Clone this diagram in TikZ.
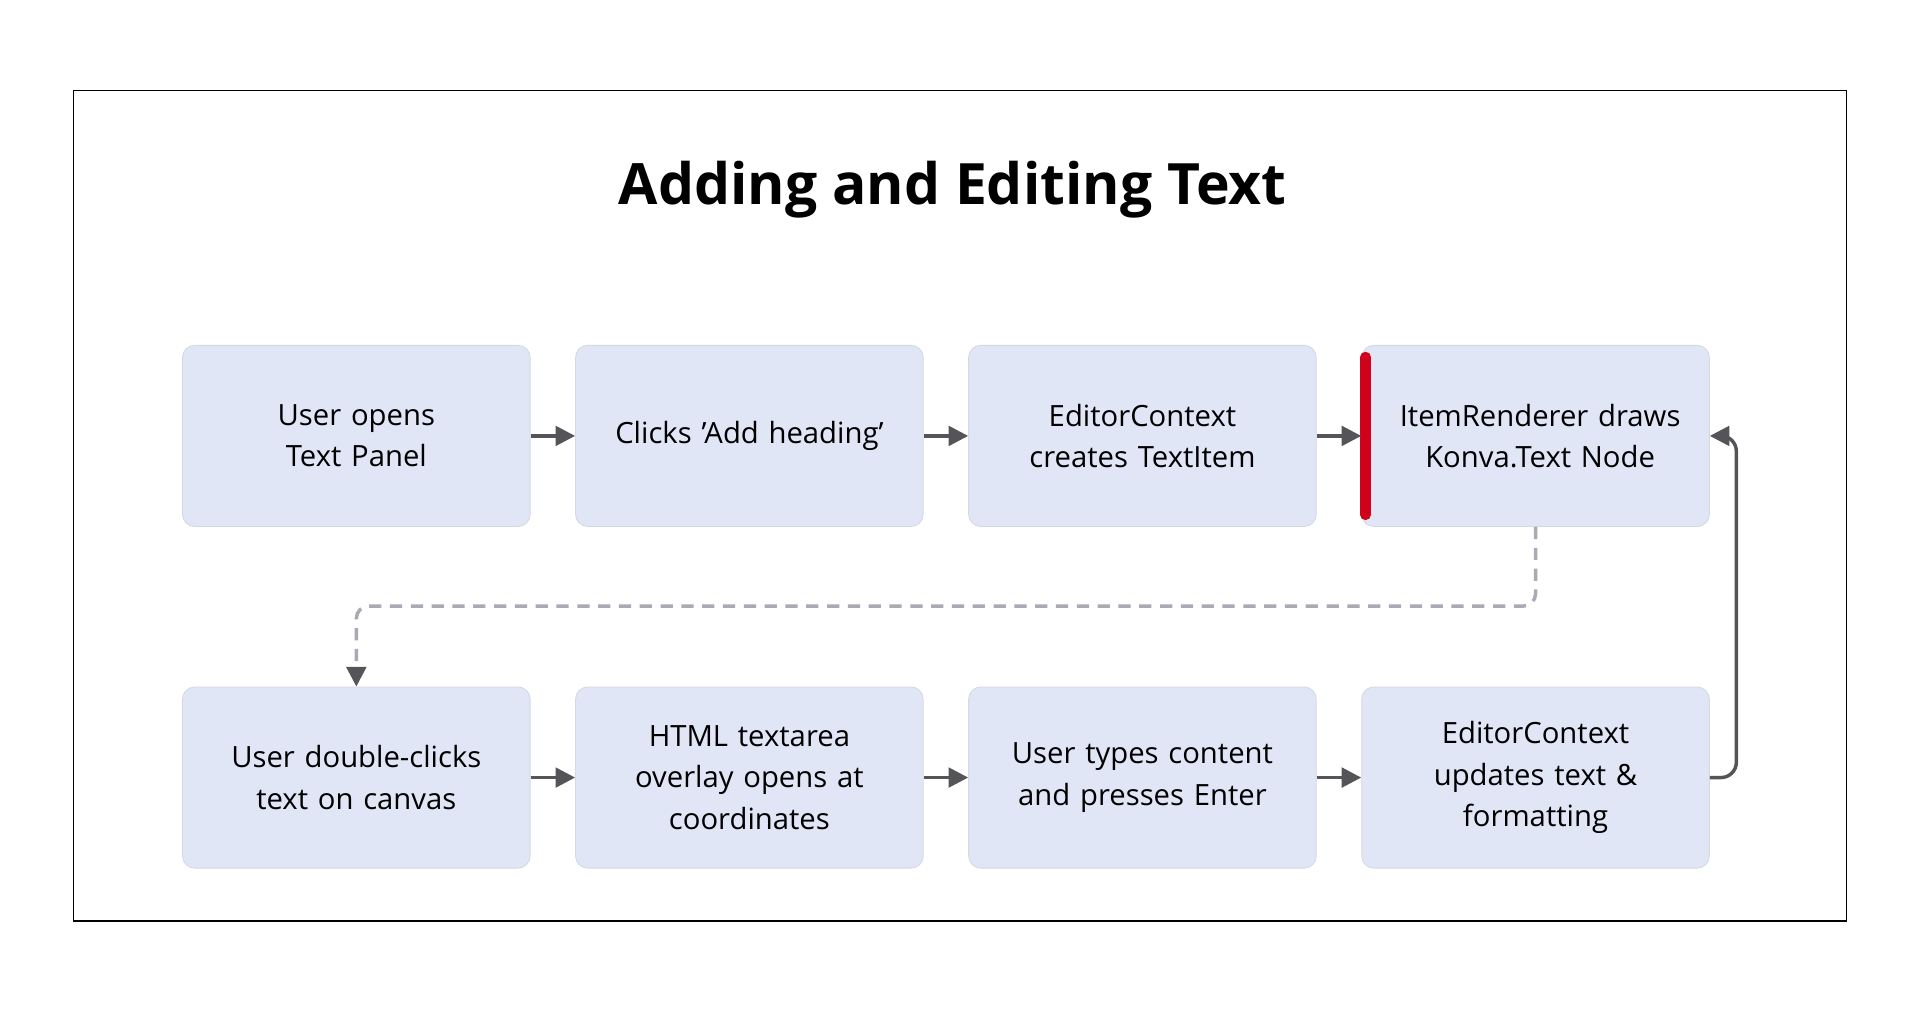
\documentclass[tikz,border=0pt]{standalone}
\usepackage{fontspec}
\setmainfont{Open Sans}
\usetikzlibrary{arrows.meta,positioning}
\definecolor{boxfill}{HTML}{E0E6F6}
\definecolor{boxline}{HTML}{D4D8E2}
\definecolor{arrowgray}{HTML}{555559}
\definecolor{dashgray}{HTML}{A8AAB4}
\definecolor{barred}{HTML}{D0021B}
\tikzset{
  stage/.style={draw=boxline, fill=boxfill, rounded corners=0.2cm, minimum width=5.68cm,
    minimum height=2.96cm, align=center, font=\fontsize{13.6}{19.2}\selectfont, text width=5.2cm},
  flow/.style={draw=arrowgray, line width=1.6pt, -{Triangle[length=0.32cm,width=0.32cm]}}
}
\begin{document}
\begin{tikzpicture}[x=0.02cm,y=-0.02cm]
\useasboundingbox (0,0) rectangle (1568,827);
\draw[line width=0.8pt] (60,74) rectangle (1508,752);
\node (title) at (778,155) {\fontsize{26.5}{32}\selectfont\bfseries Adding and Editing Text};
% first row
\node[stage] (panel) at (291,356) {User opens\\Text Panel};
\node[stage] (heading) at (612,356) {Clicks \symbol{39}Add heading\symbol{39}};
\node[stage] (create) at (933,356) {EditorContext\\creates TextItem};
\node[stage] (render) at (1254,356) {\hspace*{0.15cm}ItemRenderer draws\\\hspace*{0.15cm}Konva.Text Node};
\draw[barred, line width=5pt, line cap=round] ([xshift=0.07cm,yshift=-0.2cm]render.north west) -- ([xshift=0.07cm,yshift=0.2cm]render.south west);
% second row
\node[stage] (dblclick) at (291,635) {User double-clicks\\text on canvas};
\node[stage] (overlay) at (612,635) {HTML textarea\\overlay opens at\\coordinates};
\node[stage] (typing) at (933,635) {User types content\\and presses Enter};
\node[stage] (update) at (1254,635) {EditorContext\\updates text \&\\formatting};
% connectors
\draw[flow] (panel) -- (heading);
\draw[flow] (heading) -- (create);
\draw[flow] (create) -- (render);
\draw[flow] (dblclick) -- (overlay);
\draw[flow] (overlay) -- (typing);
\draw[flow] (typing) -- (update);
\draw[dashgray, line width=1.6pt, dash pattern=on 0.2cm off 0.14cm, rounded corners=0.2cm,
  -{Triangle[length=0.32cm,width=0.32cm,color=arrowgray]}] (render.south) -- (1254,495) -- (291,495) -- (dblclick.north);
\draw[flow, rounded corners=0.25cm] (update.east) -- (1418,635) -- (1418,356) -- (render.east);
\end{tikzpicture}
\end{document}
